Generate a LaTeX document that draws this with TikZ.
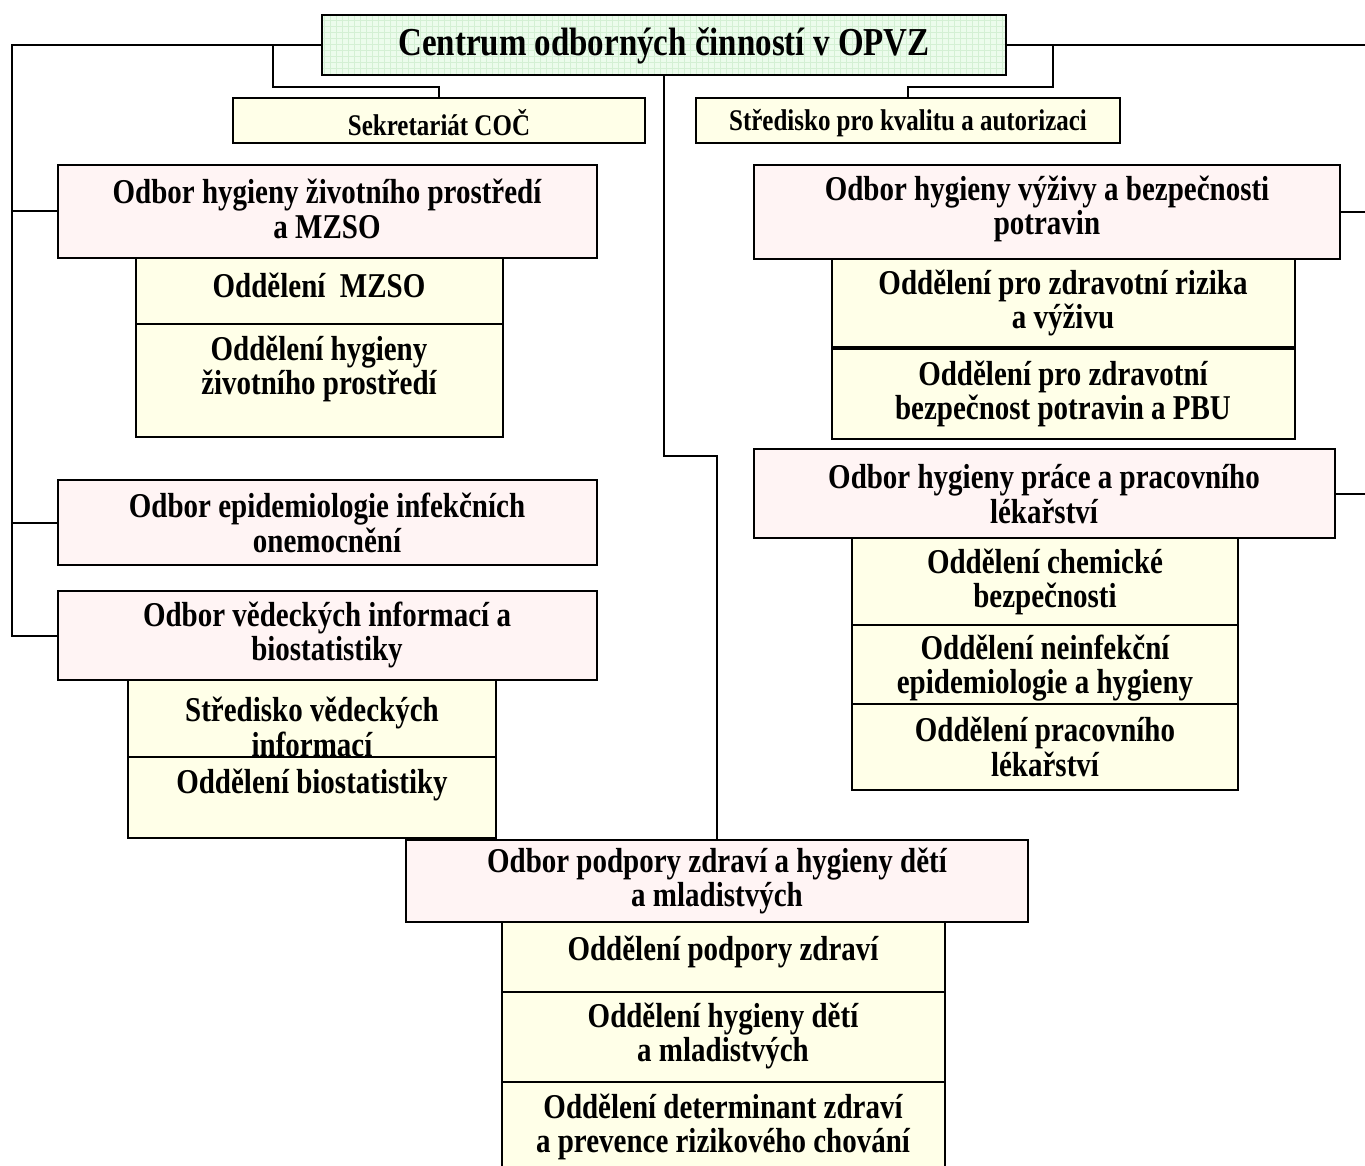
\documentclass[tikz,border=0pt]{standalone}
\usepackage{fontspec}
\setmainfont{Liberation Serif}[FakeStretch=0.833]
\usetikzlibrary{patterns}
\definecolor{cocgreen}{RGB}{236,252,236}
\definecolor{gridgreen}{RGB}{212,240,212}
\definecolor{odborpink}{RGB}{255,244,244}
\definecolor{oddelyellow}{RGB}{255,255,232}
\tikzset{
  unit/.style={draw=black, line width=1.2pt, inner sep=0pt, outer sep=0pt, anchor=north west},
  cocbox/.style={unit, preaction={fill=cocgreen}, pattern=grid, pattern color=gridgreen},
  odborbox/.style={unit, fill=odborpink},
  oddelbox/.style={unit, fill=oddelyellow},
  link/.style={line width=1pt},
  lbl/.style={font=\fontsize{17.4}{17.4}\selectfont\bfseries, align=center, inner sep=0pt},
  lblbig/.style={lbl, font=\fontsize{19.8}{20}\selectfont\bfseries},
  lblsmall/.style={lbl, font=\fontsize{15}{15}\selectfont\bfseries}
}
\begin{document}
\begin{tikzpicture}[x=0.5pt,y=0.5pt,yscale=-1,xscale=1]
        \useasboundingbox (0,0) rectangle (1365,1166);

        %Shape: Rectangle [Centrum]
        \node [cocbox, minimum width=342pt, minimum height=30pt] (coc) at (322,15) {};
        %Shape: Rectangle [Sekretariat]
        \node [oddelbox, minimum width=206pt, minimum height=22.5pt] (sek) at (233,98) {};
        %Shape: Rectangle [Stredisko kvalita]
        \node [oddelbox, minimum width=212pt, minimum height=22.5pt] (skva) at (696,98) {};

        %Shape: Rectangle [Odbor hygieny ZP]
        \node [odborbox, minimum width=269.5pt, minimum height=46.5pt] (ohzp) at (58,165) {};
        \node [oddelbox, minimum width=183.5pt, minimum height=33pt] (mzso) at (136,258) {};
        \node [oddelbox, minimum width=183.5pt, minimum height=56.5pt] (ohzpo) at (136,324) {};
        %Shape: Rectangle [Odbor epidemiologie]
        \node [odborbox, minimum width=269.5pt, minimum height=42.5pt] (epid) at (58,480) {};
        %Shape: Rectangle [Odbor vedeckych informaci]
        \node [odborbox, minimum width=269.5pt, minimum height=44.5pt] (ovib) at (58,591) {};
        \node [oddelbox, minimum width=184pt, minimum height=38.5pt] (svi) at (128,680) {};
        \node [oddelbox, minimum width=184pt, minimum height=40.5pt] (biost) at (128,757) {};

        %Shape: Rectangle [Odbor vyzivy]
        \node [odborbox, minimum width=293pt, minimum height=47pt] (ohvbp) at (754,165) {};
        \node [oddelbox, minimum width=231.5pt, minimum height=44pt] (rizika) at (832,259) {};
        \node [oddelbox, minimum width=231.5pt, minimum height=45pt] (pbu) at (832,349) {};
        %Shape: Rectangle [Odbor prace]
        \node [odborbox, minimum width=290.5pt, minimum height=44.5pt] (ohpp) at (754,449) {};
        \node [oddelbox, minimum width=193pt, minimum height=43.5pt] (chem) at (852,538) {};
        \node [oddelbox, minimum width=193pt, minimum height=39.5pt] (neinf) at (852,625) {};
        \node [oddelbox, minimum width=193pt, minimum height=43pt] (prlek) at (852,704) {};

        %Shape: Rectangle [Odbor podpory zdravi]
        \node [odborbox, minimum width=311pt, minimum height=41pt] (opzd) at (406,840) {};
        \node [oddelbox, minimum width=221.5pt, minimum height=35pt] (podp) at (502,922) {};
        \node [oddelbox, minimum width=221.5pt, minimum height=45pt] (hdm) at (502,992) {};
        \node [oddelbox, minimum width=221.5pt, minimum height=48pt] (det) at (502,1082) {};

        %Straight Lines [left bus]
        \coordinate (lbus) at (12,45);
        \draw [link] (coc.west) -- (lbus) |- (ovib.west);
        \draw [link] (ohzp.west) -- (ohzp.west -| lbus);
        \draw [link] (epid.west) -- (epid.west -| lbus);
        %Straight Lines [right bus]
        \coordinate (rbus) at (1372,45);
        \draw [link] (coc.east) -- (rbus) |- (ohpp.east);
        \draw [link] (ohvbp.east) -- (ohvbp.east -| rbus);
        %Straight Lines [staff units]
        \coordinate (sekknee) at (273,87);
        \draw [link] (coc.west -| sekknee) -- (sekknee) -| (sek.north);
        \coordinate (skvaknee) at (1053,87);
        \draw [link] (coc.east -| skvaknee) -- (skvaknee) -| (skva.north);
        %Straight Lines [centre]
        \coordinate (cknee) at (664,456);
        \draw [link] (coc.south) -- (cknee) -| (opzd.north);

        % Text Node
        \node [lblbig] (coc-t) at (664,46) {Centrum odborných činností v OPVZ};
        % Text Node
        \node [lblsmall] (sek-t) at (439,123) {Sekretariát COČ};
        % Text Node
        \node [lblsmall] (skva-t) at (908,123) {Středisko pro kvalitu a autorizaci};
        % Text Node
        \node [lbl] (ohzp-t) at (327,209) {Odbor hygieny životního prostředí\\a MZSO};
        % Text Node
        \node [lbl] (mzso-t) at (319,285) {Oddělení\ \ MZSO};
        % Text Node
        \node [lbl] (ohzpo-t) at (319,369) {Oddělení hygieny\\životního prostředí};
        % Text Node
        \node [lbl] (epid-t) at (327,523) {Odbor epidemiologie infekčních\\onemocnění};
        % Text Node
        \node [lbl] (ovib-t) at (327,635) {Odbor vědeckých informací a\\biostatistiky};
        % Text Node
        \node [lbl] (svi-t) at (312,727) {Středisko vědeckých\\informací};
        % Text Node
        \node [lbl] (biost-t) at (312,785) {Oddělení biostatistiky};
        % Text Node
        \node [lbl] (ohvbp-t) at (1047,209) {Odbor hygieny výživy a bezpečnosti\\potravin};
        % Text Node
        \node [lbl] (rizika-t) at (1063,303) {Oddělení pro zdravotní rizika\\a výživu};
        % Text Node
        \node [lbl] (pbu-t) at (1063,394) {Oddělení pro zdravotní\\bezpečnost potravin a PBU};
        % Text Node
        \node [lbl] (ohpp-t) at (1044,494) {Odbor hygieny práce a pracovního\\lékařství};
        % Text Node
        \node [lbl] (chem-t) at (1045,582) {Oddělení chemické\\bezpečnosti};
        % Text Node
        \node [lbl] (neinf-t) at (1045,668) {Oddělení neinfekční\\epidemiologie a hygieny};
        % Text Node
        \node [lbl] (prlek-t) at (1045,747) {Oddělení pracovního\\lékařství};
        % Text Node
        \node [lbl] (opzd-t) at (717,881) {Odbor podpory zdraví a hygieny dětí\\a mladistvých};
        % Text Node
        \node [lbl] (podp-t) at (723,952) {Oddělení podpory zdraví};
        % Text Node
        \node [lbl] (hdm-t) at (723,1036) {Oddělení hygieny dětí\\a mladistvých};
        % Text Node
        \node [lbl] (det-t) at (723,1127) {Oddělení determinant zdraví\\a prevence rizikového chování};
\end{tikzpicture}
\end{document}
